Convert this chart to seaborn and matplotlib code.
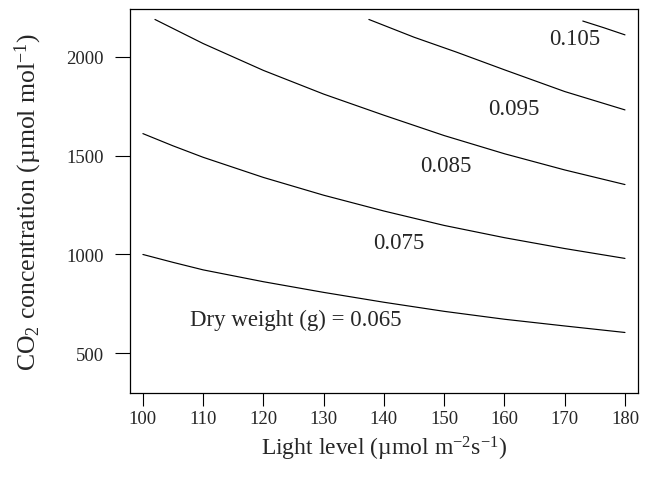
import matplotlib
matplotlib.use("Agg")
import matplotlib.pyplot as plt
import seaborn as sns
import pandas as pd

# contour lines of predicted dry weight
light_065 = [100, 105, 110, 120, 130, 140, 150, 160, 170, 180]
co2_065 = [1000, 960, 922, 862, 808, 758, 712, 672, 638, 605]

light_075 = [100, 105, 110, 120, 130, 140, 150, 160, 170, 180]
co2_075 = [1612, 1550, 1492, 1390, 1300, 1220, 1147, 1085, 1030, 980]

light_085 = [102, 110, 120, 130, 140, 150, 160, 170, 180]
co2_085 = [2190, 2068, 1932, 1812, 1705, 1602, 1510, 1428, 1354]

light_095 = [137.5, 145, 152, 160, 170, 180]
co2_095 = [2190, 2100, 2025, 1935, 1825, 1732]

light_105 = [173, 176.5, 180]
co2_105 = [2182, 2148, 2112]

contour_labels = ["Dry weight (g) = 0.065", "0.075", "0.085", "0.095", "0.105"]
label_x = [125.3, 142.5, 150.3, 161.6, 171.6]
label_y = [673, 1062, 1453, 1740, 2096]

x_ticks = [100, 110, 120, 130, 140, 150, 160, 170, 180]
y_ticks = [500, 1000, 1500, 2000]

sns.set_style("ticks")
plt.rcParams["font.family"] = ["Liberation Serif", "DejaVu Serif"]
plt.rcParams["mathtext.fontset"] = "custom"
plt.rcParams["mathtext.rm"] = "Liberation Serif"
plt.rcParams["mathtext.it"] = "Liberation Serif:italic"

fig = plt.figure(figsize=(6.48, 4.85), dpi=100)
ax = fig.add_axes([0.201, 0.187, 0.783, 0.792])

lines = [(light_065, co2_065), (light_075, co2_075), (light_085, co2_085),
         (light_095, co2_095), (light_105, co2_105)]
for xs, ys in lines:
    df = pd.DataFrame({"light": xs, "co2": ys})
    sns.lineplot(data=df, x="light", y="co2", ax=ax, color="black",
                 linewidth=0.85, sort=False, estimator=None)

for txt, lx, ly in zip(contour_labels, label_x, label_y):
    ax.text(lx, ly, txt, ha="center", va="center", fontsize=16.5)

ax.set_xlim(97.9, 182.1)
ax.set_ylim(297, 2242)
ax.set_xticks(x_ticks)
ax.set_yticks(y_ticks)
ax.tick_params(axis="x", direction="out", length=9, width=0.8,
               labelsize=13.5, pad=3, color="black")
ax.tick_params(axis="y", direction="out", length=11, width=0.8,
               labelsize=13.5, pad=8, color="black")
for s in ax.spines.values():
    s.set_visible(True)
    s.set_linewidth(0.9)
    s.set_color("black")

ax.set_xlabel("Light level (µmol m$^{-2}$s$^{-1}$)", fontsize=17, labelpad=5)
ax.set_ylabel("CO$_2$ concentration (µmol mol$^{-1}$)", fontsize=18.5, labelpad=16)

fig.savefig("out.png", dpi=100)
